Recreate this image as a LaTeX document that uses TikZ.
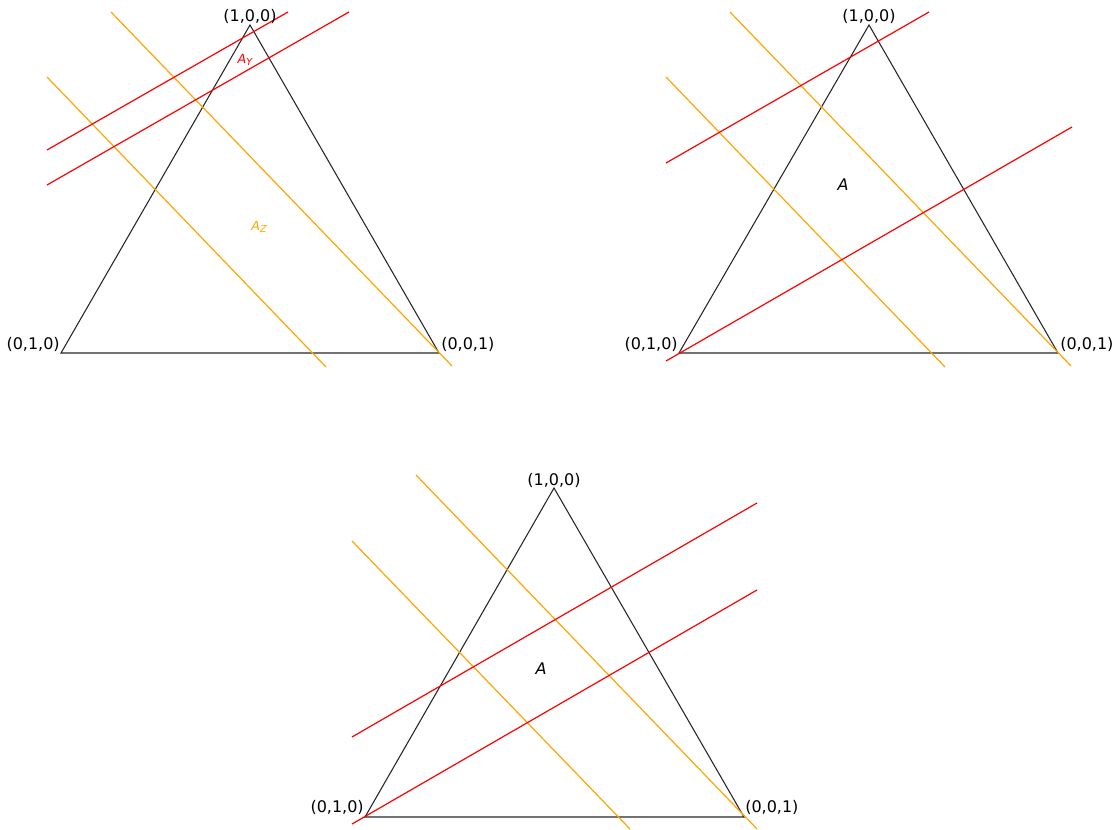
\documentclass[tikz,border=0pt]{standalone}
\usepackage{fontspec}
\setmainfont{DejaVu Sans}
\definecolor{mplorange}{HTML}{FFA500}
\definecolor{mplred}{HTML}{FF0000}
\tikzset{
  tri/.style={draw=black!85, line width=0.8pt, line join=miter},
  redline/.style={draw=mplred, line width=0.9pt},
  orline/.style={draw=mplorange, line width=0.9pt},
  vlab/.style={inner sep=0pt, font=\fontsize{12}{14}\selectfont},
  alab/.style={inner sep=0pt, font=\fontsize{12}{14}\selectfont\itshape},
  slab/.style={inner sep=0pt, font=\fontsize{9.5}{11}\selectfont\itshape},
}
\begin{document}
\begin{tikzpicture}[x=0.75pt,y=-0.75pt]
\useasboundingbox (0,0) rectangle (1117,830);
% ---------- Panel 1 ----------
\coordinate (t1) at (250,25);
\coordinate (l1) at (61,353);
\coordinate (r1) at (439,353);
\draw[tri] (t1) -- (l1) -- (r1) -- cycle;
\coordinate (o1a) at (111,12);  \coordinate (o1b) at (452,366);
\coordinate (o2a) at (47,77);   \coordinate (o2b) at (326,367);
\coordinate (r1a) at (47,150);  \coordinate (r1b) at (288,12);
\coordinate (r2a) at (47,185);  \coordinate (r2b) at (349,12);
\draw[orline] (o1a) -- (o1b);
\draw[orline] (o2a) -- (o2b);
\draw[redline] (r1a) -- (r1b);
\draw[redline] (r2a) -- (r2b);
\node[vlab] (p1top) at (250,16) {(1,0,0)};
\node[vlab, anchor=east] (p1left) at (60,344) {(0,1,0)};
\node[vlab, anchor=west] (p1right) at (441,344) {(0,0,1)};
\node[slab, text=mplred] (ay) at (245,60) {A\raisebox{-0.35ex}{\fontsize{7.2}{8}\selectfont Y}};
\node[slab, text=mplorange] (az) at (259,227) {A\raisebox{-0.35ex}{\fontsize{7.2}{8}\selectfont Z}};
% ---------- Panel 2 ----------
\coordinate (t2) at (869,25);
\coordinate (l2) at (679,353);
\coordinate (r2) at (1058,353);
\draw[tri] (t2) -- (l2) -- (r2) -- cycle;
\coordinate (q1a) at (730,12);  \coordinate (q1b) at (1071,366);
\coordinate (q2a) at (666,77);  \coordinate (q2b) at (945,367);
\coordinate (s1a) at (666,163); \coordinate (s1b) at (929,12);
\coordinate (s2a) at (666,361); \coordinate (s2b) at (1072,127);
\draw[orline] (q1a) -- (q1b);
\draw[orline] (q2a) -- (q2b);
\draw[redline] (s1a) -- (s1b);
\draw[redline] (s2a) -- (s2b);
\node[vlab] (p2top) at (869,16) {(1,0,0)};
\node[vlab, anchor=east] (p2left) at (678,344) {(0,1,0)};
\node[vlab, anchor=west] (p2right) at (1060,344) {(0,0,1)};
\node[alab] (a2) at (843,185) {A};
% ---------- Panel 3 ----------
\coordinate (t3) at (554,488);
\coordinate (l3) at (365,817);
\coordinate (r3) at (744,817);
\draw[tri] (t3) -- (l3) -- (r3) -- cycle;
\coordinate (u1a) at (416,475); \coordinate (u1b) at (757,829);
\coordinate (u2a) at (352,541); \coordinate (u2b) at (630,829);
\coordinate (v1a) at (352,737); \coordinate (v1b) at (757,503);
\coordinate (v2a) at (352,824); \coordinate (v2b) at (757,590);
\draw[orline] (u1a) -- (u1b);
\draw[orline] (u2a) -- (u2b);
\draw[redline] (v1a) -- (v1b);
\draw[redline] (v2a) -- (v2b);
\node[vlab] (p3top) at (554,480) {(1,0,0)};
\node[vlab, anchor=east] (p3left) at (364,807) {(0,1,0)};
\node[vlab, anchor=west] (p3right) at (745,807) {(0,0,1)};
\node[alab] (a3) at (541,669) {A};
\end{tikzpicture}
\end{document}
